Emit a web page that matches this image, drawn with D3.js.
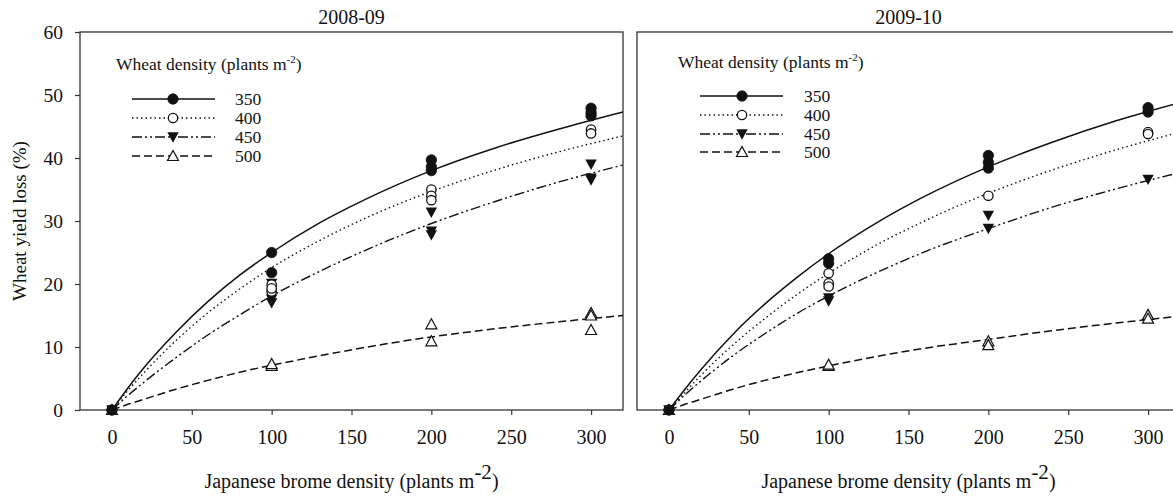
<!DOCTYPE html>
<html>
<head>
<meta charset="utf-8">
<script src="https://cdn.jsdelivr.net/npm/d3@7"></script>
<style>
  html, body { margin: 0; padding: 0; background: #fff; }
  svg { display: block; font-family: "Liberation Serif", "Times New Roman", "DejaVu Serif", serif; }
</style>
</head>
<body>
<svg id="chart" width="1173" height="497"></svg>
<script>
// ---------------- DATA ----------------
const panelTitles = ["2008-09", "2009-10"];
const densities = ["350", "400", "450", "500"];
const xTicks = [0, 50, 100, 150, 200, 250, 300];
const yTicks = [0, 10, 20, 30, 40, 50, 60];

// fitted curves: [brome density, yield loss]
const fit0809_350 = [[0,0],[10,3.5],[20,6.7],[40,12.3],[60,17.2],[80,21.4],[100,25.0],[130,29.7],[160,33.6],[200,38.0],[240,41.6],[280,44.6],[320,47.3]];
const fit0809_400 = [[0,0],[10,3.1],[20,5.9],[40,11.0],[60,15.4],[80,19.2],[100,22.6],[130,26.9],[160,30.6],[200,34.7],[240,38.1],[280,41.0],[320,43.5]];
const fit0809_450 = [[0,0],[10,2.3],[20,4.4],[40,8.3],[60,11.9],[80,15.1],[100,18.1],[130,22.0],[160,25.5],[200,29.6],[240,33.1],[280,36.2],[320,38.9]];
const fit0809_500 = [[0,0],[10,0.9],[20,1.7],[40,3.3],[60,4.7],[80,6.0],[100,7.1],[130,8.6],[160,10.0],[200,11.6],[240,12.9],[280,14.0],[320,15.0]];

const fit0910_350 = [[0,0],[10,3.3],[20,6.4],[40,12.0],[60,16.8],[80,21.0],[100,24.8],[130,29.7],[160,33.9],[200,38.6],[240,42.5],[280,45.9],[320,48.8]];
const fit0910_400 = [[0,0],[10,2.8],[20,5.5],[40,10.3],[60,14.5],[80,18.3],[100,21.7],[130,26.2],[160,30.0],[200,34.4],[240,38.1],[280,41.3],[320,44.1]];
const fit0910_450 = [[0,0],[10,2.4],[20,4.6],[40,8.6],[60,12.1],[80,15.3],[100,18.1],[130,21.8],[160,25.1],[200,28.8],[240,32.2],[280,35.1],[320,37.7]];
const fit0910_500 = [[0,0],[10,0.9],[20,1.7],[40,3.3],[60,4.7],[80,5.9],[100,7.0],[130,8.5],[160,9.8],[200,11.2],[240,12.6],[280,13.8],[320,14.9]];

// observations
const obs0809_350 = [[0,0],[100,25.0],[100,21.8],[200,39.7],[200,38.6],[200,38.0],[300,47.9],[300,46.7],[300,47.2]];
const obs0809_400 = [[0,0],[100,19.9],[100,18.8],[100,19.3],[200,35.0],[200,34.0],[200,33.3],[300,44.5],[300,43.9]];
const obs0809_450 = [[0,0],[100,20.1],[100,17.6],[100,17.0],[200,31.4],[200,28.4],[200,27.8],[300,39.0],[300,36.5],[300,36.8]];
const obs0809_500 = [[0,0],[100,7.0],[100,7.3],[200,13.6],[200,10.9],[300,15.4],[300,15.0],[300,12.7]];

const obs0910_350 = [[0,0],[100,24.0],[100,23.3],[200,40.4],[200,39.3],[200,38.4],[300,48.0],[300,47.3]];
const obs0910_400 = [[0,0],[100,21.7],[100,20.1],[100,19.6],[200,34.0],[300,44.1],[300,43.8]];
const obs0910_450 = [[0,0],[100,17.8],[100,17.3],[200,30.9],[200,28.8],[300,36.6]];
const obs0910_500 = [[0,0],[100,7.0],[100,7.2],[200,10.9],[200,10.3],[300,15.1],[300,14.5]];

// ---------------- LAYOUT / STYLE ----------------
const svg = d3.select("#chart");
const ink = "#111";
const frameColor = "#333";
const serif = "Liberation Serif, Times New Roman, DejaVu Serif, serif";
const panels = [
  { title: panelTitles[0], x0: 80, x1: 623, showY: true,
    fits: [fit0809_350, fit0809_400, fit0809_450, fit0809_500],
    obs: [obs0809_350, obs0809_400, obs0809_450, obs0809_500],
    legend: { tx: 116, ty: 70, lx0: 132, lx1: 215, mx: 173, labx: 235, rows: [99, 118, 137, 156] } },
  { title: panelTitles[1], x0: 637, x1: 1180, showY: false,
    fits: [fit0910_350, fit0910_400, fit0910_450, fit0910_500],
    obs: [obs0910_350, obs0910_400, obs0910_450, obs0910_500],
    legend: { tx: 678, ty: 68, lx0: 700, lx1: 783, mx: 742, labx: 804, rows: [96, 115, 134, 152] } }
];
const yTop = 32, yBot = 410;
const lineStyles = [
  { dash: null, width: 1.5 },
  { dash: "1.5,3", width: 1.4 },
  { dash: "10,3,2,3,2,3", width: 1.4 },
  { dash: "8,4", width: 1.5 }
];

const y = d3.scaleLinear().domain([0, 60]).range([yBot, yTop]);

function drawMarker(g, k, cx, cy) {
  if (k === 0) {
    g.append("circle").attr("cx", cx).attr("cy", cy).attr("r", 5.2).attr("fill", ink).attr("stroke", ink).attr("stroke-width", 0.8);
  } else if (k === 1) {
    g.append("circle").attr("cx", cx).attr("cy", cy).attr("r", 4.7).attr("fill", "#fff").attr("stroke", ink).attr("stroke-width", 1.3);
  } else if (k === 2) {
    g.append("path").attr("d", `M${cx-5.7},${cy-4.7}L${cx+5.7},${cy-4.7}L${cx},${cy+5.7}Z`).attr("fill", ink);
  } else {
    g.append("path").attr("d", `M${cx-5.5},${cy+4.5}L${cx+5.5},${cy+4.5}L${cx},${cy-5.5}Z`)
      .attr("fill", "#fff").attr("stroke", ink).attr("stroke-width", 1.2);
  }
}

panels.forEach(p => {
  const x = d3.scaleLinear().domain([-20, 320]).range([p.x0, p.x1]);
  const g = svg.append("g");

  const clipId = "clip" + p.x0;
  svg.append("clipPath").attr("id", clipId).append("rect")
    .attr("x", p.x0).attr("y", yTop).attr("width", p.x1 - p.x0).attr("height", yBot - yTop);

  // frame
  g.append("rect").attr("x", p.x0).attr("y", yTop).attr("width", p.x1 - p.x0).attr("height", yBot - yTop)
    .attr("fill", "none").attr("stroke", frameColor).attr("stroke-width", 1.3);

  // x axis
  const xa = g.append("g").attr("transform", `translate(0,${yBot})`)
    .call(d3.axisBottom(x).tickValues(xTicks).tickSize(5).tickPadding(15).tickFormat(d3.format("d")));
  xa.attr("font-family", serif);
  xa.select(".domain").remove();
  xa.selectAll("line").attr("stroke", frameColor).attr("stroke-width", 1.2);
  xa.selectAll("text").attr("font-size", 20).attr("fill", ink);

  if (p.showY) {
    const ya = g.append("g").attr("transform", `translate(${p.x0},0)`)
      .call(d3.axisLeft(y).tickValues(yTicks).tickSize(5).tickPadding(12));
    ya.attr("font-family", serif);
    ya.select(".domain").remove();
    ya.selectAll("line").attr("stroke", frameColor).attr("stroke-width", 1.2);
    ya.selectAll("text").attr("font-size", 19.5).attr("fill", ink);
  }

  // title
  g.append("text").attr("x", (p.x0 + p.x1) / 2).attr("y", 24).attr("text-anchor", "middle")
    .attr("font-size", 20).attr("fill", ink).text(p.title);

  // x axis title
  const xt = g.append("text").attr("x", (p.x0 + p.x1) / 2).attr("y", 488).attr("text-anchor", "middle")
    .attr("font-size", 20).attr("fill", ink);
  xt.append("tspan").text("Japanese brome density (plants m");
  xt.append("tspan").attr("dy", -9).attr("font-size", 21).text("-2");
  xt.append("tspan").attr("dy", 9).text(")");

  // curves
  const line = d3.line().x(d => x(d[0])).y(d => y(d[1])).curve(d3.curveMonotoneX);
  const cg = g.append("g").attr("clip-path", `url(#${clipId})`);
  p.fits.forEach((f, k) => {
    cg.append("path").attr("d", line(f)).attr("fill", "none").attr("stroke", ink)
      .attr("stroke-width", lineStyles[k].width)
      .attr("stroke-dasharray", lineStyles[k].dash);
  });

  // points
  const pg = g.append("g");
  [3, 2, 1, 0].forEach(k => {
    p.obs[k].forEach(d => drawMarker(pg, k, x(d[0]), y(d[1])));
  });

  // legend
  const L = p.legend;
  const lt = g.append("text").attr("x", L.tx).attr("y", L.ty).attr("font-size", 17.5).attr("fill", ink);
  lt.append("tspan").text("Wheat density (plants m");
  lt.append("tspan").attr("dy", -7).attr("font-size", 11).text("-2");
  lt.append("tspan").attr("dy", 7).text(")");
  densities.forEach((lab, k) => {
    const ry = L.rows[k];
    g.append("line").attr("x1", L.lx0).attr("x2", L.lx1).attr("y1", ry).attr("y2", ry)
      .attr("stroke", ink).attr("stroke-width", lineStyles[k].width)
      .attr("stroke-dasharray", lineStyles[k].dash);
    drawMarker(g, k, L.mx, ry);
    g.append("text").attr("x", L.labx).attr("y", ry + 5.5).attr("font-size", 17.5).attr("fill", ink).text(lab);
  });
});

// y axis title
svg.append("text").attr("transform", `translate(26,${(yTop + yBot) / 2}) rotate(-90)`)
  .attr("text-anchor", "middle").attr("font-size", 19).attr("fill", ink).text("Wheat yield loss (%)");
</script>
</body>
</html>
